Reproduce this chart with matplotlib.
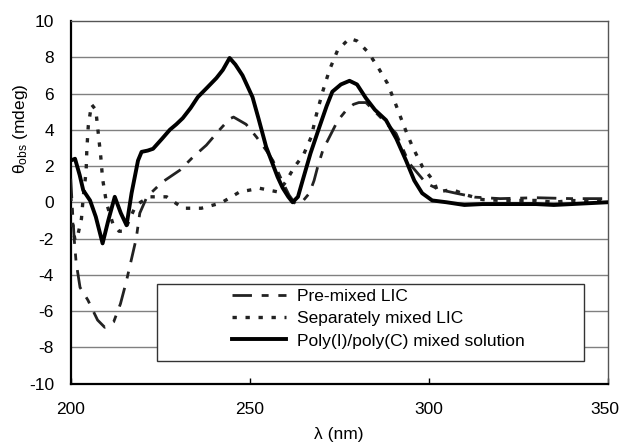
import matplotlib
matplotlib.use("Agg")
import matplotlib.pyplot as plt
import matplotlib.transforms as mtransforms
from matplotlib.patches import Rectangle

plt.rcParams["font.family"] = ["Liberation Sans", "DejaVu Sans"]
plt.rcParams["mathtext.fontset"] = "custom"
plt.rcParams["mathtext.rm"] = "Liberation Sans"
plt.rcParams["axes.unicode_minus"] = False

# CD spectra (wavelength nm, theta_obs mdeg)
poly_x = [200, 201.2, 202.5, 203.5, 205.4, 207, 208.9, 210.5, 212.3, 214, 215.6,
          217, 218.8, 219.8, 221.5, 223, 225.5, 227.7, 229.5, 231.3, 233.5, 235.5,
          238, 240.7, 242.5, 244.4, 246, 248, 250.8, 252.5, 254.6, 257.8, 259.2,
          260.8, 262, 263.5, 264.8, 267, 269.5, 271.5, 273.1, 275.5, 277.9, 280,
          282.5, 285, 288.1, 291, 293.7, 296, 298.2, 301, 305, 310, 315, 320, 325,
          330, 335, 340, 345, 350]
poly_y = [2.3, 2.4, 1.5, 0.66, 0.1, -0.8, -2.27, -1.0, 0.3, -0.6, -1.27,
          0.5, 2.3, 2.78, 2.85, 2.95, 3.5, 4.0, 4.3, 4.64, 5.2, 5.8,
          6.3, 6.85, 7.3, 7.96, 7.6, 7.0, 5.8, 4.6, 3.06, 1.4, 0.8,
          0.3, 0.0, 0.3, 1.2, 2.7, 4.16, 5.3, 6.1, 6.5, 6.7, 6.5,
          5.74, 5.1, 4.53, 3.5, 2.3, 1.2, 0.5, 0.1, 0.0, -0.15, -0.1, -0.1, -0.1,
          -0.1, -0.15, -0.1, -0.05, 0.0]

pre_x = [200, 200.5, 201, 201.5, 202.6, 204.8, 207.5, 209.5, 212, 213.9, 215.5,
         216.9, 218.3, 219.3, 221.3, 225.5, 230.5, 234.2, 237.9, 241.6, 244.4,
         245.5, 249, 251.9, 254.6, 256.5, 259, 261, 262.8, 265, 266.7, 268, 269,
         270.5, 272.3, 274.6, 277, 279, 280.5, 282.5, 286, 290.9, 294.6, 299.3,
         303, 307.6, 313, 320, 330, 340, 350]
pre_y = [1.3, -0.5, -2.1, -3.3, -4.7, -5.4, -6.5, -6.9, -6.6, -5.6, -4.4,
         -3.2, -2.0, -0.6, 0.3, 1.1, 1.77, 2.5, 3.15, 4.0, 4.6,
         4.7, 4.3, 3.6, 2.87, 2.3, 1.2, 0.4, -0.1, 0.1, 0.5, 1.2, 1.95,
         2.9, 3.6, 4.5, 5.08, 5.4, 5.5, 5.5, 4.8, 3.8, 2.15, 1.05,
         0.7, 0.5, 0.28, 0.2, 0.25, 0.2, 0.2]

sep_x = [200, 200.6, 201.2, 202, 203, 203.5, 204.3, 204.5, 204.9, 205.8, 207,
         207.7, 208.4, 208.9, 210, 211.8, 213.5, 215, 217.9, 219.5, 222, 226.8,
         231.4, 236.5, 242, 247.2, 252.8, 257.9, 260, 262.5, 265, 267.2, 268.6,
         270.4, 272.3, 274.6, 277.9, 280, 283, 285.8, 288.5, 290.9, 293.2, 295.5,
         298.3, 301.6, 302.5, 306.6, 310.6, 315, 320, 325, 330, 335, 340, 345, 350]
sep_y = [0.3, -1.4, -2.1, -1.8, -0.9, 0.3, 1.7, 2.9, 4.2, 5.4, 5.1,
         3.8, 2.5, 1.3, -0.06, -1.2, -1.6, -1.6, -0.3, 0.0, 0.3, 0.3,
         -0.33, -0.33, -0.04, 0.57, 0.77, 0.57, 1.1, 1.95, 2.6, 3.6, 4.8,
         6.1, 7.3, 8.4, 9.04, 8.9, 8.3, 7.47, 6.56, 5.36, 4.16, 3.06,
         1.95, 1.12, 0.57, 0.7, 0.4, 0.15, 0.1, 0.1, 0.1, 0.0, 0.1, 0.05, 0.1]

labels = ["Pre-mixed LIC", "Separately mixed LIC", "Poly(I)/poly(C) mixed solution"]
yticks = list(range(-10, 11, 2))
xticks = [200, 250, 300, 350]
fs = 12.5

fig = plt.figure(figsize=(6.21, 4.45), dpi=100)
ax = fig.add_axes([0.1139, 0.1382, 0.8644, 0.8146])

# gridlines
for v in yticks[1:-1]:
    ax.axhline(v, color="#808080", lw=1.0, zorder=1)

ax.plot(pre_x, pre_y, color="#222222", lw=2.0, ls=(0, (7, 3.5, 2.5, 3.5)),
        label=labels[0], zorder=3)
ax.plot(sep_x, sep_y, color="#222222", lw=2.4, ls=(0, (1.3, 2.6)),
        label=labels[1], zorder=3)
ax.plot(poly_x, poly_y, color="black", lw=2.8, label=labels[2], zorder=4)

ax.set_xlim(200, 350)
ax.set_ylim(-10, 10)
ax.set_xticks(xticks)
ax.set_yticks(yticks)
ax.tick_params(axis="y", length=0, pad=12, labelsize=fs)
ax.tick_params(axis="x", direction="in", length=4, width=1, pad=13.5, labelsize=fs)

# nudge the last x tick label so it stays inside the picture
last = ax.get_xticklabels()[-1]
last.set_transform(last.get_transform() +
                   mtransforms.ScaledTranslation(-3 / 100, 0, fig.dpi_scale_trans))

for s in ["left", "bottom"]:
    ax.spines[s].set_linewidth(1.6)
    ax.spines[s].set_color("black")
for s in ["top", "right"]:
    ax.spines[s].set_linewidth(1.0)
    ax.spines[s].set_color("#555555")

# legend box (wide, Excel-style)
box = Rectangle((0.160, 0.062), 0.797, 0.212, transform=ax.transAxes,
                facecolor="white", edgecolor="#333333", lw=1.0, zorder=5)
ax.add_patch(box)
leg = ax.legend(loc="upper left", bbox_to_anchor=(0.2998, 0.262), frameon=False,
                fontsize=fs, handlelength=3.15, handletextpad=0.6,
                labelspacing=0.42, borderpad=0.0, borderaxespad=0.0)
leg.set_zorder(6)

ax.set_xlabel("λ (nm)", fontsize=fs, labelpad=7)
fig.text(21 / 621, 1 - 129 / 445, r"$\mathrm{θ_{obs}}$ (mdeg)", rotation=90,
         ha="center", va="center", fontsize=fs)

plt.savefig("out.png", dpi=100)
